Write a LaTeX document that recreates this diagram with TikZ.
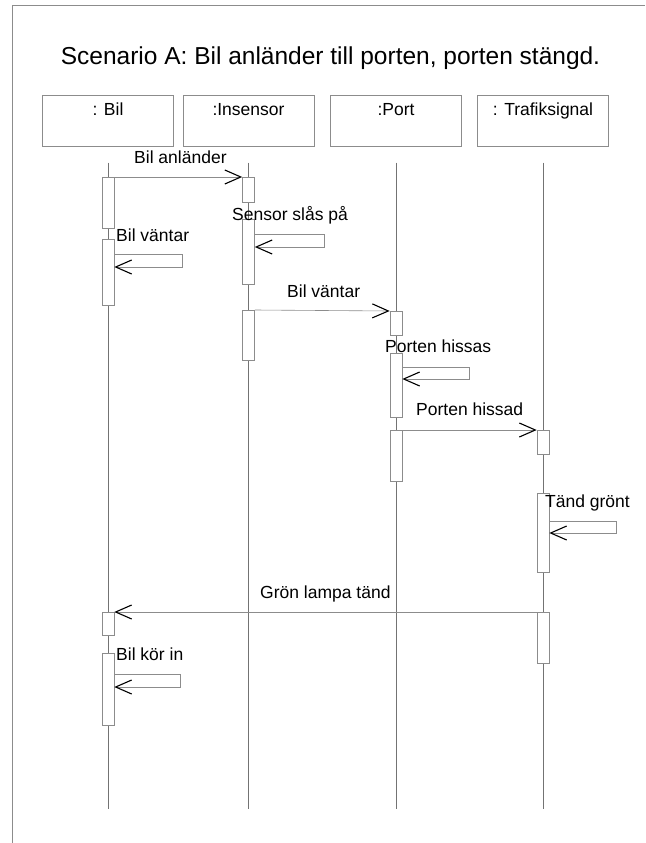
\documentclass[tikz,border=0pt]{standalone}
\usepackage{fontspec}
\setmainfont{Liberation Sans}
\usetikzlibrary{arrows.meta,calc}

\definecolor{framegray}{gray}{0.55}
\definecolor{linegray}{gray}{0.45}
\definecolor{msggray}{gray}{0.55}

\begin{document}
\begin{tikzpicture}[x=1pt,y=-1pt,
  lbl/.style={font=\fontsize{17.5}{20}\selectfont, inner sep=0, anchor=base west},
  headbox/.style={draw=framegray, line width=0.6pt, minimum width=131pt,
    font=\fontsize{17.5}{20}\selectfont, inner xsep=0, inner ysep=9pt,
    text height=11pt, text depth=22pt, anchor=north},
  lifeline/.style={draw=linegray, line width=0.7pt},
  act/.style={draw=framegray, fill=white, line width=0.6pt, minimum width=12pt,
    inner sep=0, anchor=north},
  msg/.style={draw=msggray, line width=0.6pt,
    -{Straight Barb[length=16pt,width=14pt,line width=1.1pt,color=black]}},
]
\useasboundingbox (0,0) rectangle (645,843);

% outer frame
\draw[framegray, line width=0.7pt] (12,843) -- (12,5) -- (645,5);

% title
\node[font=\fontsize{24.5}{28}\selectfont, inner sep=0, anchor=base] (title) at (330.5,65)
  {Scenario A: Bil anländer till porten, porten stängd.};

% object heads
\node[headbox] (bil)  at (108,95)   {: Bil};
\node[headbox] (ins)  at (248.5,95) {:Insensor};
\node[headbox] (port) at (396,95)   {:Port};
\node[headbox] (traf) at (543,95)   {: Trafiksignal};

% lifelines
\foreach \o in {bil,ins,port,traf}{
  \coordinate (\o-top) at ($(\o.south)+(0,16)$);
  \coordinate (\o-end) at (\o.south |- 0,809);
  \draw[lifeline] (\o-top) -- (\o-end);
}

% activation bars
\node[act, minimum height=51pt] (ba1) at (bil.south |- 0,177) {};
\node[act, minimum height=66pt] (ba2) at (bil.south |- 0,239) {};
\node[act, minimum height=23pt] (ba3) at (bil.south |- 0,612) {};
\node[act, minimum height=72pt] (ba4) at (bil.south |- 0,653) {};

\node[act, minimum height=25pt] (ia1) at (ins.south |- 0,177) {};
\node[act, minimum height=65pt] (ia2) at (ins.south |- 0,219) {};
\node[act, minimum height=50pt] (ia3) at (ins.south |- 0,310) {};

\node[act, minimum height=24pt] (pa1) at (port.south |- 0,311) {};
\node[act, minimum height=64pt] (pa2) at (port.south |- 0,353) {};
\node[act, minimum height=51pt] (pa3) at (port.south |- 0,430) {};

\node[act, minimum height=24pt] (ta1) at (traf.south |- 0,430) {};
\node[act, minimum height=79pt] (ta2) at (traf.south |- 0,493) {};
\node[act, minimum height=51pt] (ta3) at (traf.south |- 0,612) {};

% messages between objects
\draw[msg] (ba1.north east) -- (ia1.north west);
\draw[msg] (ia3.north east) -- (pa1.north west);
\draw[msg] (pa3.north east) -- (ta1.north west);
\draw[msg] (ta3.north west) -- (ba3.north east);

% self messages
\draw[msg] ($(ia2.north east)+(0,15)$) -- ++(69,0) -- ++(0,13) -- ++(-69,0);
\draw[msg] ($(ba2.north east)+(0,15)$) -- ++(68,0) -- ++(0,13) -- ++(-68,0);
\draw[msg] ($(pa2.north east)+(0,14)$) -- ++(67,0) -- ++(0,12) -- ++(-67,0);
\draw[msg] ($(ta2.north east)+(0,28)$) -- ++(67,0) -- ++(0,12) -- ++(-67,0);
\draw[msg] ($(ba4.north east)+(0,21)$) -- ++(66,0) -- ++(0,13) -- ++(-66,0);

% message labels
\node[lbl] (m1) at (134,163) {Bil anländer};
\node[lbl] (m2) at (232,220) {Sensor slås på};
\node[lbl] (m3) at (116,241) {Bil väntar};
\node[lbl] (m4) at (287,297) {Bil väntar};
\node[lbl] (m5) at (385,352) {Porten hissas};
\node[lbl] (m6) at (416,415) {Porten hissad};
\node[lbl] (m7) at (545,507) {Tänd grönt};
\node[lbl] (m8) at (260,598) {Grön lampa tänd};
\node[lbl] (m9) at (116,660) {Bil kör in};
\end{tikzpicture}
\end{document}
